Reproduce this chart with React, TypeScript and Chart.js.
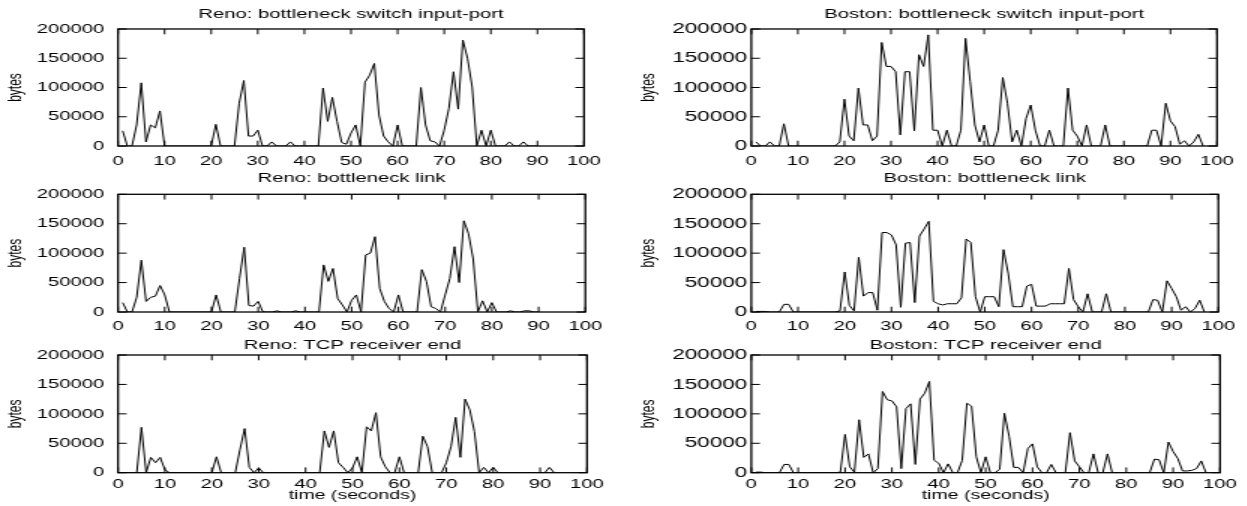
import React, { useEffect, useRef } from "react";
import { Chart, registerables } from "chart.js";

Chart.register(...registerables);

// ---------- data ----------
const SECONDS = Array.from({ length: 97 }, (_, i) => i + 1);
const X_TICKS = [0, 10, 20, 30, 40, 50, 60, 70, 80, 90, 100];
const Y_TICKS = [0, 50000, 100000, 150000, 200000];

const RENO_SWITCH = [
  26000, 0, 0, 36000, 108000, 7000, 36000, 31000, 60000, 0,
  0, 0, 0, 0, 0, 0, 0, 0, 0, 0,
  37000, 0, 0, 0, 0, 73000, 112000, 17000, 17000, 27000,
  0, 0, 7000, 0, 0, 0, 7000, 0, 0, 0,
  0, 0, 0, 99000, 42000, 83000, 42000, 6000, 3000, 22000,
  36000, 0, 109000, 121000, 141000, 53000, 17000, 7000, 0, 36000,
  0, 0, 0, 0, 100000, 36000, 9000, 7000, 0, 27000,
  64000, 127000, 63000, 181000, 150000, 101000, 0, 27000, 0, 27000,
  0, 0, 0, 7000, 0, 0, 7000, 0, 0, 0,
];

const BOSTON_SWITCH = [
  7000, 0, 0, 7000, 0, 0, 38000, 0, 0, 0,
  0, 0, 0, 0, 0, 0, 0, 0, 7000, 80000,
  17000, 9000, 99000, 36000, 36000, 9000, 17000, 177000, 136000, 136000,
  127000, 19000, 127000, 127000, 26000, 156000, 136000, 190000, 27000, 27000,
  0, 27000, 0, 0, 27000, 184000, 110000, 36000, 7000, 36000,
  0, 0, 27000, 117000, 73000, 7000, 27000, 0, 47000, 70000,
  27000, 0, 0, 27000, 0, 0, 0, 99000, 27000, 17000,
  0, 36000, 0, 0, 0, 36000, 0, 0, 0, 0,
  0, 0, 0, 0, 0, 27000, 27000, 0, 73000, 43000,
  33000, 3000, 9000, 0, 7000, 20000, 0,
];

const RENO_LINK = [
  16000, 0, 0, 25000, 88000, 18000, 25000, 27000, 45000, 29000,
  0, 0, 0, 0, 0, 0, 0, 0, 0, 0,
  29000, 0, 0, 0, 0, 57000, 110000, 11000, 10000, 18000,
  0, 0, 0, 2000, 0, 0, 0, 2000, 0, 0,
  0, 0, 0, 80000, 52000, 74000, 23000, 12000, 0, 20000,
  29000, 0, 97000, 100000, 128000, 40000, 18000, 6000, 0, 29000,
  0, 0, 0, 0, 72000, 52000, 9000, 6000, 0, 29000,
  57000, 111000, 50000, 155000, 133000, 90000, 0, 19000, 0, 16000,
  0, 0, 0, 2000, 0, 0, 2000, 2000, 0, 0,
];

const BOSTON_LINK = [
  1000, 1000, 1000, 0, 0, 0, 13000, 13000, 0, 0,
  0, 0, 0, 0, 0, 0, 0, 0, 2000, 68000,
  11000, 2000, 93000, 27000, 33000, 33000, 3000, 135000, 135000, 131000,
  114000, 8000, 117000, 118000, 16000, 129000, 141000, 154000, 18000, 14000,
  12000, 14000, 14000, 14000, 24000, 124000, 118000, 26000, 0, 26000,
  26000, 26000, 9000, 106000, 66000, 9000, 9000, 9000, 44000, 47000,
  10000, 10000, 10000, 14000, 14000, 14000, 14000, 74000, 21000, 9000,
  0, 31000, 0, 0, 0, 31000, 0, 0, 0, 0,
  0, 0, 0, 0, 0, 21000, 20000, 0, 53000, 40000,
  26000, 3000, 9000, 0, 6000, 20000, 0,
];

const RENO_TCP = [
  0, 0, 0, 0, 77000, 0, 26000, 17000, 26000, 5000,
  0, 0, 0, 0, 0, 0, 0, 0, 0, 0,
  27000, 0, 0, 0, 0, 39000, 75000, 9000, 0, 8000,
  0, 0, 0, 0, 0, 0, 0, 0, 0, 0,
  0, 0, 0, 71000, 43000, 71000, 17000, 9000, 0, 8000,
  27000, 0, 78000, 71000, 102000, 27000, 10000, 0, 0, 27000,
  0, 0, 0, 0, 62000, 44000, 0, 0, 0, 17000,
  44000, 94000, 26000, 125000, 107000, 70000, 0, 9000, 0, 9000,
  0, 0, 0, 0, 0, 0, 0, 0, 0, 0,
  0, 9000, 0,
];

const BOSTON_TCP = [
  1000, 1000, 0, 0, 0, 0, 14000, 14000, 0, 0,
  0, 0, 0, 0, 0, 0, 0, 0, 1000, 65000,
  10000, 1000, 90000, 26000, 32000, 0, 7000, 138000, 124000, 122000,
  112000, 7000, 109000, 117000, 14000, 125000, 135000, 155000, 21000, 16000,
  0, 15000, 0, 0, 21000, 118000, 113000, 27000, 0, 27000,
  0, 0, 6000, 101000, 62000, 9000, 9000, 0, 41000, 49000,
  10000, 0, 0, 14000, 0, 0, 0, 68000, 20000, 10000,
  0, 0, 32000, 0, 0, 32000, 0, 0, 0, 0,
  0, 0, 0, 0, 0, 23000, 22000, 0, 52000, 36000,
  24000, 3000, 3000, 4000, 7000, 20000, 0,
];

const TITLES = [
  "Reno: bottleneck switch input-port",
  "Boston: bottleneck switch input-port",
  "Reno: bottleneck link",
  "Boston: bottleneck link",
  "Reno: TCP receiver end",
  "Boston: TCP receiver end",
];
const SERIES = [RENO_SWITCH, BOSTON_SWITCH, RENO_LINK, BOSTON_LINK, RENO_TCP, BOSTON_TCP];
const Y_LABEL = "bytes";
const X_LABEL = "time (seconds)";

// ---------- layout / style ----------
const FONT = '"Liberation Sans", Arial, Helvetica, sans-serif';
const STRETCH = 1.5; // the original figure is horizontally stretched
const TITLE_SIZE = 13.5;
const XTICK_SIZE = 13.5;
const XTITLE_SIZE = 13;
const YTITLE_SIZE = 12;
const TICK_V = 5.3;
const TICK_H = 5.8;

const COLS = [
  { left: 0, width: 612, plotLeft: 118, plotRight: 587, yLabelGap: 13.7, yTitleX: 16.7, yFont: 13.5 },
  { left: 630, width: 615, plotLeft: 751.3, plotRight: 1220, yLabelGap: 4, yTitleX: 19.7, yFont: 15 },
];
const ROWS = [
  { top: 0, height: 170, plotTop: 29, plotBottom: 146, titleY: 13.8, tickY: 161.5, xTitleY: 0 },
  { top: 165, height: 171, plotTop: 194.3, plotBottom: 312, titleY: 178.3, tickY: 326.6, xTitleY: 0 },
  { top: 330, height: 176, plotTop: 355, plotBottom: 472.7, titleY: 345.3, tickY: 484.2, xTitleY: 495.5 },
];

const frameAndTicks = {
  id: "frameAndTicks",
  afterDatasetsDraw(chart: any) {
    const { ctx, chartArea } = chart;
    const { left, right, top, bottom } = chartArea;
    const xs = chart.scales.x;
    const ys = chart.scales.y;
    ctx.save();
    ctx.strokeStyle = "#000";
    ctx.lineWidth = 1;
    ctx.beginPath();
    X_TICKS.forEach((v) => {
      const p = xs.getPixelForValue(v);
      ctx.moveTo(p, bottom);
      ctx.lineTo(p, bottom - TICK_V);
      ctx.moveTo(p, top);
      ctx.lineTo(p, top + TICK_V);
    });
    Y_TICKS.forEach((v) => {
      const p = ys.getPixelForValue(v);
      ctx.moveTo(left, p);
      ctx.lineTo(left + TICK_H, p);
      ctx.moveTo(right, p);
      ctx.lineTo(right - TICK_H, p);
    });
    ctx.stroke();
    ctx.lineWidth = 1.3;
    ctx.strokeRect(left, top, right - left, bottom - top);
    ctx.restore();
  },
};

function Panel({ index }: { index: number }) {
  const ref = useRef<HTMLCanvasElement>(null);
  const col = COLS[index % 2];
  const row = ROWS[Math.floor(index / 2)];
  const W = col.width / STRETCH;
  const H = row.height;

  useEffect(() => {
    const values = SERIES[index];
    const yAxisWidth = (col.plotLeft - col.left) / STRETCH;
    const padRight = W - (col.plotRight - col.left) / STRETCH;
    const tlh = TITLE_SIZE * 1.2;
    const titleCenter = row.titleY - row.top;
    const titlePadTop = titleCenter - tlh / 2;
    const titlePadBottom = row.plotTop - row.top - titleCenter - tlh / 2;
    const xAxisHeight = row.top + row.height - row.plotBottom;
    const xTickPad = row.tickY - row.plotBottom - (XTICK_SIZE * 1.2) / 2;
    const hasXTitle = row.xTitleY > 0;
    const xTitlePadBottom = row.top + row.height - row.xTitleY - (XTITLE_SIZE * 1.2) / 2;
    const yTitlePadTop = col.yTitleX / STRETCH - (YTITLE_SIZE * 1.2) / 2;

    const chart = new Chart(ref.current as HTMLCanvasElement, {
      type: "line",
      data: {
        datasets: [
          {
            data: values.map((v, i) => ({ x: SECONDS[i], y: v })),
            borderColor: "#000",
            borderWidth: 1,
            pointRadius: 0,
            tension: 0,
            fill: false,
          },
        ],
      },
      options: {
        responsive: false,
        devicePixelRatio: 1,
        animation: false,
        events: [],
        layout: { padding: { left: 0, right: padRight, top: 0, bottom: 0 }, autoPadding: false },
        plugins: {
          legend: { display: false },
          tooltip: { enabled: false },
          title: {
            display: true,
            text: TITLES[index],
            fullSize: false,
            color: "#000",
            font: { family: FONT, size: TITLE_SIZE, weight: "normal" },
            padding: { top: titlePadTop, bottom: titlePadBottom },
          },
        },
        scales: {
          x: {
            type: "linear",
            min: 0,
            max: 100,
            grid: { display: false, drawTicks: false },
            border: { display: false },
            afterBuildTicks: (s: any) => {
              s.ticks = X_TICKS.map((v) => ({ value: v }));
            },
            afterFit: (s: any) => {
              s.height = xAxisHeight;
            },
            ticks: {
              autoSkip: false,
              maxRotation: 0,
              padding: xTickPad,
              color: "#000",
              font: { family: FONT, size: XTICK_SIZE },
              callback: (v: any) => String(v),
            },
            title: {
              display: hasXTitle,
              text: X_LABEL,
              color: "#000",
              font: { family: FONT, size: XTITLE_SIZE },
              padding: { top: 0, bottom: xTitlePadBottom },
            },
          },
          y: {
            type: "linear",
            min: 0,
            max: 200000,
            grid: { display: false, drawTicks: false },
            border: { display: false },
            afterBuildTicks: (s: any) => {
              s.ticks = Y_TICKS.map((v) => ({ value: v }));
            },
            afterFit: (s: any) => {
              s.width = yAxisWidth;
            },
            ticks: {
              autoSkip: false,
              padding: col.yLabelGap / STRETCH,
              color: "#000",
              font: { family: FONT, size: col.yFont },
              callback: (v: any) => String(v),
            },
            title: {
              display: true,
              text: Y_LABEL,
              color: "#000",
              font: { family: FONT, size: YTITLE_SIZE },
              padding: { top: yTitlePadTop, bottom: 0 },
            },
          },
        },
      } as any,
      plugins: [frameAndTicks],
    });
    return () => chart.destroy();
  }, [index]);

  return (
    <canvas
      ref={ref}
      width={W}
      height={H}
      style={{
        position: "absolute",
        left: col.left + "px",
        top: row.top + "px",
        width: col.width + "px",
        height: H + "px",
      }}
    />
  );
}

export default function App() {
  return (
    <div
      style={{
        position: "absolute",
        left: 0,
        top: 0,
        width: "1247px",
        height: "506px",
        background: "#fff",
        overflow: "hidden",
      }}
    >
      {TITLES.map((_, i) => (
        <Panel key={i} index={i} />
      ))}
    </div>
  );
}
